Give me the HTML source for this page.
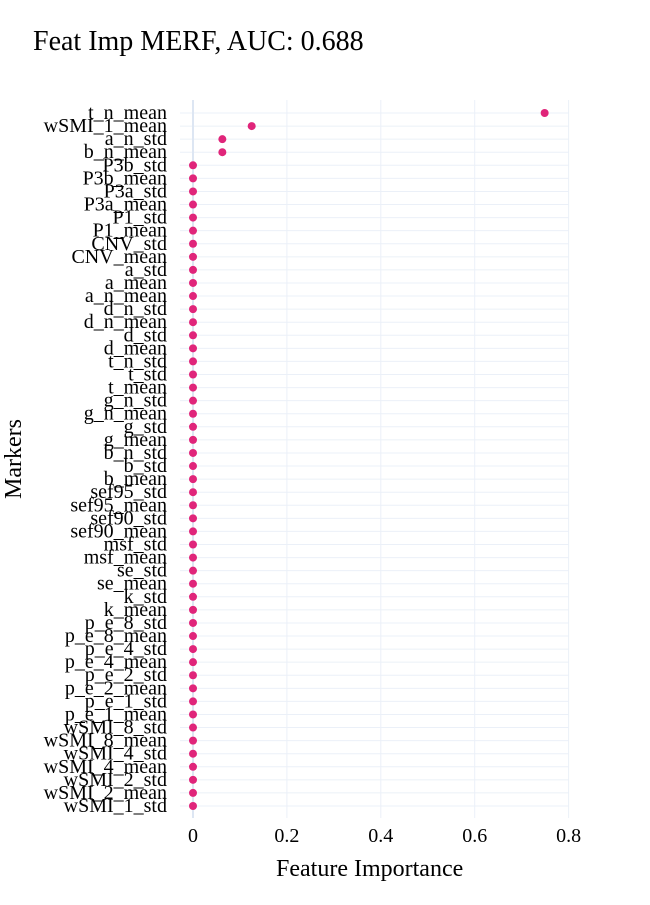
<!DOCTYPE html>
<html><head><meta charset="utf-8"><style>
body{margin:0;background:#fff}
svg text{font-family:"Liberation Serif",serif;fill:#000}
</style></head><body>
<svg id="c" width="650" height="900">
<text x="33" y="50" font-size="28">Feat Imp MERF, AUC: 0.688</text>
<text x="276" y="876" font-size="24">Feature Importance</text>
<text transform="translate(21,459) rotate(-90)" font-size="24" text-anchor="middle">Markers</text>
<g id="grid"></g><g id="marks"></g><g id="labels"></g>
</svg>
<script>
const categories=["t_n_mean","wSMI_1_mean","a_n_std","b_n_mean","P3b_std","P3b_mean","P3a_std","P3a_mean","P1_std","P1_mean","CNV_std","CNV_mean","a_std","a_mean","a_n_mean","d_n_std","d_n_mean","d_std","d_mean","t_n_std","t_std","t_mean","g_n_std","g_n_mean","g_std","g_mean","b_n_std","b_std","b_mean","sef95_std","sef95_mean","sef90_std","sef90_mean","msf_std","msf_mean","se_std","se_mean","k_std","k_mean","p_e_8_std","p_e_8_mean","p_e_4_std","p_e_4_mean","p_e_2_std","p_e_2_mean","p_e_1_std","p_e_1_mean","wSMI_8_std","wSMI_8_mean","wSMI_4_std","wSMI_4_mean","wSMI_2_std","wSMI_2_mean","wSMI_1_std"];
const topValues=[0.749,0.125,0.0625,0.0625];
const values=categories.map((c,i)=>i<topValues.length?topValues[i]:0);
const xTicks=[0,0.2,0.4,0.6,0.8];
const xTickLabels=["0","0.2","0.4","0.6","0.8"];
const NS="http://www.w3.org/2000/svg";
const x=v=>193+v*469.5;
const y=i=>113+i*(693/(categories.length-1));
function mk(t,a,p){const e=document.createElementNS(NS,t);for(const k in a)e.setAttribute(k,a[k]);document.getElementById(p).appendChild(e);return e;}
categories.forEach((c,i)=>{
 const g=mk("line",{x1:180,x2:569,y1:y(i),y2:y(i),stroke:"#ebf0f8","stroke-width":1},"grid");
 
 
 const t=mk("text",{x:167,y:y(i)+6,"font-size":20,"text-anchor":"end"},"labels");
 t.textContent=c;
 
 
 const d=mk("circle",{cx:x(values[i]),cy:y(i),r:4,fill:"#e0257a"},"marks");
 
 
});
xTicks.forEach((v,i)=>{
 const l=mk("line",{x1:x(v),x2:x(v),y1:100,y2:818,stroke:i==0?"#dde6f3":"#ebf0f8","stroke-width":i==0?2:1},"grid");
 
 
 const t=mk("text",{x:x(v),y:842,"font-size":20,"text-anchor":"middle"},"labels");
 t.textContent=xTickLabels[i];
 
 
});
</script>
</body></html>
